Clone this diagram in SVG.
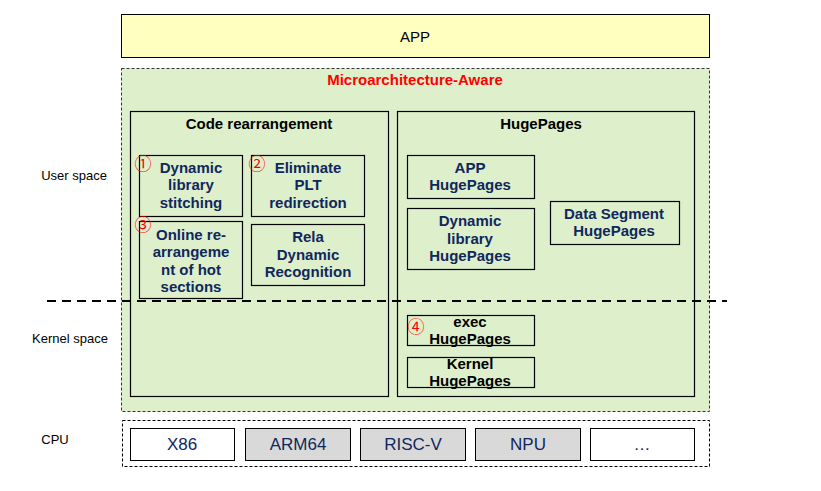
<svg xmlns="http://www.w3.org/2000/svg" width="821" height="491" viewBox="0 0 821 491">
<style>
.box{fill:none;stroke:#000;stroke-width:1.2}
.sub{fill:#DEEFCC;stroke:#000;stroke-width:1.2}
.t{font-family:"Liberation Sans",Arial,sans-serif;font-weight:bold;font-size:15px;fill:#10275C;text-anchor:middle}
.tk{font-family:"Liberation Sans",Arial,sans-serif;font-weight:bold;font-size:15px;fill:#000;text-anchor:middle}
.lbl{font-family:"Liberation Sans",Arial,sans-serif;font-size:13px;fill:#000;text-anchor:middle}
.cpu{font-family:"Liberation Sans",Arial,sans-serif;font-size:17px;fill:#10275C;text-anchor:middle}
.num{font-family:"Noto Sans CJK SC","DejaVu Sans",sans-serif;font-size:17px;fill:#FF0000;text-anchor:middle}
</style>
<rect width="821" height="491" fill="#fff"/>

<g id="app">
<rect x="121.5" y="14.5" width="588" height="43" fill="#FFFFC0" stroke="#000" stroke-width="1"/>
<text x="415" y="42" class="lbl" style="font-size:15px">APP</text>
</g>

<g id="labels">
<text x="74" y="180" class="lbl">User space</text>
<text x="70" y="343" class="lbl">Kernel space</text>
<text x="55" y="444" class="lbl">CPU</text>
</g>

<g id="micro">
<rect x="121.5" y="68.5" width="588" height="343" fill="#DEEFCC" stroke="#333" stroke-width="1" stroke-dasharray="3,2"/>
<text x="415" y="85" class="tk" style="fill:#FF0000">Microarchitecture-Aware</text>
</g>

<g id="code">
<rect x="130.5" y="111.5" width="258" height="285" class="box"/>
<text x="259" y="129" class="tk">Code rearrangement</text>
</g>

<g id="hugepages">
<rect x="397.5" y="111.5" width="297" height="285" class="box"/>
<text x="541" y="129" class="tk">HugePages</text>
</g>

<g id="dls">
<rect x="139.5" y="155.5" width="103" height="61" class="sub"/>
<text class="t" x="191" y="173">Dynamic</text>
<text class="t" x="191" y="190">library</text>
<text class="t" x="191" y="208">stitching</text>
<text class="num" x="143" y="170">①</text>
</g>

<g id="plt">
<rect x="251.5" y="155.5" width="113" height="61" class="sub"/>
<text class="t" x="308" y="173">Eliminate</text>
<text class="t" x="308" y="190">PLT</text>
<text class="t" x="308" y="208">redirection</text>
<text class="num" x="257" y="170">②</text>
</g>

<g id="online">
<rect x="139.5" y="221.5" width="103" height="77" class="sub"/>
<text class="t" x="191" y="240">Online re-</text>
<text class="t" x="191" y="257">arrangeme</text>
<text class="t" x="191" y="275">nt of hot</text>
<text class="t" x="191" y="292">sections</text>
<text class="num" x="143" y="231">③</text>
</g>

<g id="rela">
<rect x="251.5" y="224.5" width="113" height="61" class="sub"/>
<text class="t" x="308" y="242">Rela</text>
<text class="t" x="308" y="260">Dynamic</text>
<text class="t" x="308" y="277">Recognition</text>
</g>

<g id="apphp">
<rect x="407.5" y="155.5" width="127" height="43" class="sub"/>
<text class="t" x="470" y="173">APP</text>
<text class="t" x="470" y="190">HugePages</text>
</g>

<g id="dlhp">
<rect x="407.5" y="208.5" width="127" height="61" class="sub"/>
<text class="t" x="470" y="226">Dynamic</text>
<text class="t" x="470" y="244">library</text>
<text class="t" x="470" y="261">HugePages</text>
</g>

<g id="datahp">
<rect x="550.5" y="201.5" width="129" height="43" class="sub"/>
<text class="t" x="614" y="219">Data Segment</text>
<text class="t" x="614" y="236">HugePages</text>
</g>

<g id="exechp">
<rect x="407.5" y="315.5" width="127" height="30" class="sub"/>
<text class="tk" x="470" y="327">exec</text>
<text class="tk" x="470" y="344">HugePages</text>
<text class="num" x="416" y="333">④</text>
</g>

<g id="kernelhp">
<rect x="407.5" y="357.5" width="127" height="30" class="sub"/>
<text class="tk" x="470" y="369">Kernel</text>
<text class="tk" x="470" y="386">HugePages</text>
</g>

<g id="connectors">
<line x1="47" y1="301" x2="727" y2="301" stroke="#000" stroke-width="2" stroke-dasharray="9,6"/>
</g>

<g id="cpu">
<rect x="122.5" y="420.5" width="587" height="46" fill="#fff" stroke="#000" stroke-width="1" stroke-dasharray="3,2"/>
</g>
<g id="x86">
<rect x="130.5" y="428.5" width="104" height="32" fill="#fff" stroke="#000" stroke-width="1"/>
<text class="cpu" x="182" y="450">X86</text>
</g>
<g id="arm64">
<rect x="245.5" y="428.5" width="105" height="32" fill="#D9D9D9" stroke="#000" stroke-width="1"/>
<text class="cpu" x="298" y="450">ARM64</text>
</g>
<g id="riscv">
<rect x="360.5" y="428.5" width="105" height="32" fill="#D9D9D9" stroke="#000" stroke-width="1"/>
<text class="cpu" x="413" y="450">RISC-V</text>
</g>
<g id="npu">
<rect x="475.5" y="428.5" width="105" height="32" fill="#D9D9D9" stroke="#000" stroke-width="1"/>
<text class="cpu" x="528" y="450">NPU</text>
</g>
<g id="more">
<rect x="590.5" y="428.5" width="104" height="32" fill="#fff" stroke="#000" stroke-width="1"/>
<text class="cpu" x="642" y="450">…</text>
</g>
</svg>
